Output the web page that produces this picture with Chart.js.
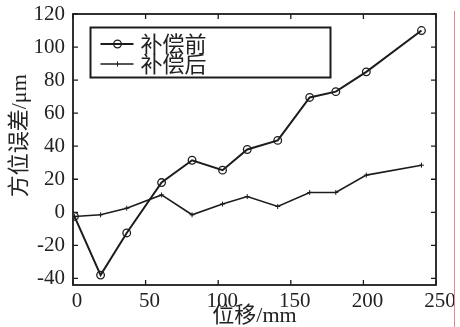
<!DOCTYPE html>
<html>
<head>
<meta charset="utf-8">
<script src="https://cdn.jsdelivr.net/npm/chart.js@4.4.0/dist/chart.umd.min.js"></script>
<style>
  body { margin: 0; background: #fff; }
  #wrap { position: relative; width: 460px; height: 327px; }
  #redline { position: absolute; left: 454px; top: 11px; width: 1px; height: 316px; background: #ee8585; }
</style>
</head>
<body>
<div id="wrap">
  <canvas id="myChart" width="460" height="327"></canvas>
  <div id="redline"></div>
</div>
<script>
// data
var seriesNames = ['补偿前', '补偿后'];
var positions = [1, 19, 37, 61, 82, 103, 120, 141, 163, 181, 202, 240];
var beforeComp = [-2.5, -38, -12.5, 18, 31.5, 25.5, 38, 43.5, 69.5, 73, 85, 110];
var afterComp = [-2.5, -1.5, 2.5, 10.5, -1.5, 5, 9.5, 3.5, 12, 12, 22.5, 28.5];
var xTicks = [0, 50, 100, 150, 200, 250];
var yTicks = [-40, -20, 0, 20, 40, 60, 80, 100, 120];

var ink = '#1c1c1c';
var serif = "'Liberation Serif', 'Noto Sans CJK SC', serif";

function toPoints(xs, ys) {
    return xs.map(function(x, i) { return { x: x, y: ys[i] }; });
}

// frame with inward ticks on all four sides
var framePlugin = {
    id: 'frame',
    afterDraw: function(chart) {
        var ctx = chart.ctx, a = chart.chartArea;
        var xs = chart.scales.x, ys = chart.scales.y;
        ctx.save();
        ctx.strokeStyle = ink;
        ctx.lineWidth = 1.8;
        ctx.strokeRect(a.left, a.top, a.right - a.left, a.bottom - a.top);
        ctx.lineWidth = 1.3;
        ctx.beginPath();
        xTicks.forEach(function(v) {
            var px = xs.getPixelForValue(v);
            ctx.moveTo(px, a.bottom); ctx.lineTo(px, a.bottom - 5);
            ctx.moveTo(px, a.top); ctx.lineTo(px, a.top + 5);
        });
        yTicks.forEach(function(v) {
            var py = ys.getPixelForValue(v);
            ctx.moveTo(a.left, py); ctx.lineTo(a.left + 5, py);
            ctx.moveTo(a.right, py); ctx.lineTo(a.right - 5, py);
        });
        ctx.stroke();
        ctx.restore();
    }
};

// boxed legend in the upper left
var legendPlugin = {
    id: 'boxLegend',
    afterDraw: function(chart) {
        var ctx = chart.ctx, a = chart.chartArea;
        var bx = a.left + 17.5, by = a.top + 13.5;
        ctx.save();
        ctx.strokeStyle = ink;
        ctx.lineWidth = 2;
        ctx.strokeRect(bx, by, 240, 50);
        ctx.font = "22px 'Noto Sans CJK SC'";
        ctx.fillStyle = '#222';
        ctx.textBaseline = 'middle';
        chart.data.datasets.forEach(function(ds, i) {
            var y = by + 16.5 + i * 20;
            ctx.lineWidth = ds.borderWidth;
            ctx.beginPath();
            ctx.moveTo(bx + 10, y); ctx.lineTo(bx + 43, y);
            ctx.stroke();
            ctx.lineWidth = ds.pointBorderWidth;
            ctx.beginPath();
            if (ds.pointStyle === 'circle') {
                ctx.arc(bx + 27, y, ds.pointRadius, 0, Math.PI * 2);
            } else {
                ctx.moveTo(bx + 27, y - ds.pointRadius); ctx.lineTo(bx + 27, y + ds.pointRadius);
            }
            ctx.stroke();
            ctx.fillText(ds.label, bx + 50, y);
        });
        ctx.restore();
    }
};

var ctx = document.getElementById('myChart').getContext('2d');
var myChart = new Chart(ctx, {
    type: 'line',
    data: {
        datasets: [{
            label: seriesNames[0],
            data: toPoints(positions, beforeComp),
            borderColor: ink,
            borderWidth: 2,
            pointStyle: 'circle',
            pointRadius: 3.8,
            pointBorderWidth: 1.3,
            pointBorderColor: ink,
            pointBackgroundColor: 'rgba(0,0,0,0)',
            tension: 0
        }, {
            label: seriesNames[1],
            data: toPoints(positions, afterComp),
            borderColor: ink,
            borderWidth: 1.6,
            pointStyle: 'cross',
            pointRadius: 2.5,
            pointBorderWidth: 1,
            pointBorderColor: ink,
            tension: 0
        }]
    },
    options: {
        responsive: false,
        animation: false,
        devicePixelRatio: 1,
        layout: { padding: { top: 14, right: 24, left: 0, bottom: 0 } },
        plugins: {
            legend: { display: false },
            tooltip: { enabled: false }
        },
        scales: {
            x: {
                type: 'linear',
                min: 0,
                max: 250,
                afterFit: function(s) { s.height = 42; s.paddingLeft = 0; s.paddingRight = 0; },
                afterBuildTicks: function(s) { s.ticks = xTicks.map(function(v) { return { value: v }; }); },
                grid: { display: false, drawTicks: false },
                border: { display: false },
                ticks: { color: '#222', padding: 4, labelOffset: 4, maxRotation: 0, font: { family: serif, size: 21 } },
                title: {
                    display: true,
                    text: '位移/mm',
                    color: '#222',
                    padding: { top: 0, bottom: 0 },
                    font: { family: serif, size: 22, lineHeight: 1 }
                }
            },
            y: {
                min: -44,
                max: 120,
                afterFit: function(s) { s.width = 73; s.paddingTop = 0; s.paddingBottom = 0; },
                afterBuildTicks: function(s) { s.ticks = yTicks.map(function(v) { return { value: v }; }); },
                grid: { display: false, drawTicks: false },
                border: { display: false },
                ticks: { color: '#222', padding: 8, font: { family: serif, size: 21 } },
                title: {
                    display: true,
                    text: '     方位误差/μm',
                    color: '#222',
                    padding: { top: 7, bottom: 0 },
                    font: { family: serif, size: 22, lineHeight: 1.2 }
                }
            }
        }
    },
    plugins: [framePlugin, legendPlugin]
});
</script>
</body>
</html>
